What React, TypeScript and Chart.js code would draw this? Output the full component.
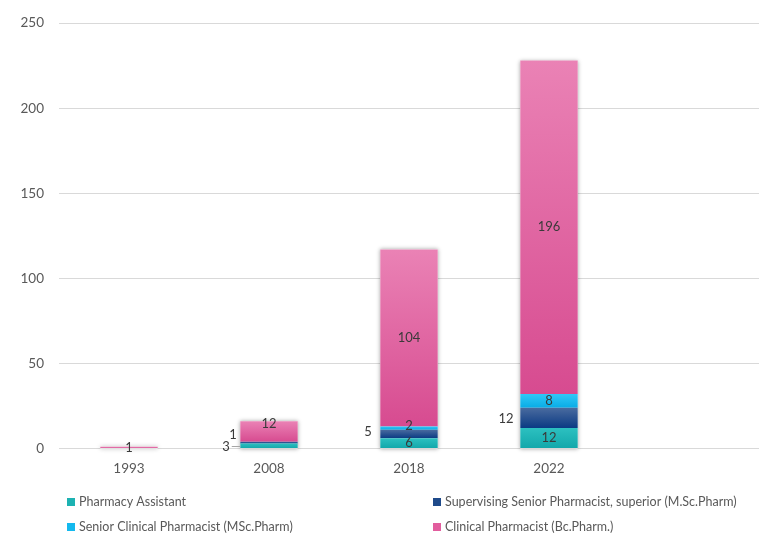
import React, { useEffect, useRef } from "react";
import { Chart, registerables } from "chart.js";

Chart.register(...registerables);

const categories = ["1993", "2008", "2018", "2022", ""];
const pharmacyAssistant = [0, 3, 6, 12, null];
const supervisingSenior = [0, 1, 5, 12, null];
const seniorClinical = [0, 0, 2, 8, null];
const clinicalPharmacist = [1, 12, 104, 196, null];
const seriesNames = [
  "Pharmacy Assistant",
  "Supervising Senior Pharmacist, superior (M.Sc.Pharm)",
  "Senior Clinical Pharmacist (MSc.Pharm)",
  "Clinical Pharmacist (Bc.Pharm.)",
];
const yMax = 250;
const yStep = 50;

const seriesData = [pharmacyAssistant, supervisingSenior, seniorClinical, clinicalPharmacist];
const gradStops = [
  ["#2CC0C0", "#12A7AA"],
  ["#4A6B9F", "#0A3A83"],
  ["#30C8F7", "#08ACE6"],
  ["#EA82B5", "#D74B90"],
];
const solidColors = ["#1DB2B2", "#1F4A8A", "#14B9EE", "#E25D9E"];

// manual label placement (style only)
const labelShift: Record<string, { dx: number; dy: number; leader?: boolean }> = {
  "0-1": { dx: -43, dy: 1, leader: true },
  "1-1": { dx: -36, dy: -7.5 },
  "3-1": { dx: 0, dy: -8 },
  "1-2": { dx: -41, dy: -2 },
  "2-2": { dx: 0, dy: -2 },
  "1-3": { dx: -43, dy: 1 },
};

const FONT = "Lato, 'Open Sans', sans-serif";

function stackStart(ds: number, i: number) {
  let s = 0;
  for (let k = 0; k < ds; k++) s += (seriesData[k][i] as number) || 0;
  return s;
}

function makeBg(ds: number) {
  return (ctx: any) => {
    const chart = ctx.chart;
    const y = chart.scales && chart.scales.y;
    if (ctx.dataIndex === undefined || !y || !chart.chartArea) return solidColors[ds];
    const v = (seriesData[ds][ctx.dataIndex] as number) || 0;
    const s = stackStart(ds, ctx.dataIndex);
    const top = y.getPixelForValue(s + v);
    const bot = y.getPixelForValue(s);
    if (!isFinite(top) || !isFinite(bot) || Math.abs(bot - top) < 0.5) return solidColors[ds];
    const g = chart.ctx.createLinearGradient(0, top, 0, bot);
    g.addColorStop(0, gradStops[ds][0]);
    g.addColorStop(1, gradStops[ds][1]);
    return g;
  };
}

const shadowPlugin = {
  id: "stackShadow",
  beforeDatasetsDraw(chart: any) {
    const c = chart.ctx;
    const metaTop = chart.getDatasetMeta(0);
    const y = chart.scales.y;
    c.save();
    metaTop.data.forEach((el: any, i: number) => {
      let total = 0;
      seriesData.forEach((arr) => (total += (arr[i] as number) || 0));
      if (!total) return;
      const w = el.width;
      const x = el.x - w / 2;
      const top = y.getPixelForValue(total);
      const bot = y.getPixelForValue(0);
      c.shadowColor = "rgba(0,0,0,0.35)";
      c.shadowBlur = 4;
      c.shadowOffsetX = 0;
      c.shadowOffsetY = 0;
      c.fillStyle = "#ffffff";
      c.fillRect(x, top, w, bot - top);
    });
    c.restore();
  },
};

const labelPlugin = {
  id: "segLabels",
  afterDatasetsDraw(chart: any) {
    const c = chart.ctx;
    c.save();
    c.font = `13px ${FONT}`;
    c.fillStyle = "#3A3A3A";
    c.textAlign = "center";
    c.textBaseline = "middle";
    chart.data.datasets.forEach((_: any, ds: number) => {
      const meta = chart.getDatasetMeta(ds);
      meta.data.forEach((el: any, i: number) => {
        const v = seriesData[ds][i];
        if (!v) return;
        const cy = (el.y + el.base) / 2;
        const sh = labelShift[`${ds}-${i}`] || { dx: 0, dy: 0 };
        const lx = el.x + sh.dx;
        const ly = cy + sh.dy;
        c.fillText(String(v), lx, ly);
        if (sh.leader) {
          const tw = c.measureText(String(v)).width;
          c.strokeStyle = "#A6A6A6";
          c.lineWidth = 1;
          c.beginPath();
          c.moveTo(lx + tw / 2 + 2, Math.round(ly) - 0.5);
          c.lineTo(el.x - el.width / 2, Math.round(ly) - 0.5);
          c.stroke();
        }
      });
    });
    c.restore();
  },
};

const legendPlugin = {
  id: "customLegend",
  afterDraw(chart: any) {
    const c = chart.ctx;
    const cols = [67, 433];
    const rows = [502, 527];
    c.save();
    c.font = `12.5px ${FONT}`;
    c.textBaseline = "middle";
    c.textAlign = "left";
    seriesNames.forEach((name, k) => {
      const x = cols[k % 2];
      const y = rows[Math.floor(k / 2)];
      c.fillStyle = solidColors[k];
      c.fillRect(x, y - 4, 8, 8);
      c.fillStyle = "#595959";
      c.fillText(name, x + 12, y);
    });
    c.restore();
  },
};

export default function App() {
  const ref = useRef<HTMLCanvasElement | null>(null);
  useEffect(() => {
    if (!ref.current) return;
    const chart = new Chart(ref.current, {
      type: "bar",
      data: {
        labels: categories,
        datasets: seriesNames.map((name, ds) => ({
          label: name,
          data: seriesData[ds] as any,
          backgroundColor: makeBg(ds) as any,
          borderWidth: 0,
          barPercentage: 0.41,
          categoryPercentage: 1,
        })),
      },
      options: {
        animation: false,
        responsive: false,
        maintainAspectRatio: false,
        layout: { padding: { left: 0, right: 12, top: 21, bottom: 0 } },
        plugins: {
          legend: { display: false },
          tooltip: { enabled: false },
        },
        scales: {
          x: {
            stacked: true,
            grid: { display: false, drawTicks: false },
            border: { display: false },
            ticks: { color: "#595959", font: { family: FONT, size: 13.5 }, padding: 12 },
            afterFit: (s: any) => {
              s.height = 93.5;
            },
          },
          y: {
            stacked: true,
            min: 0,
            max: yMax,
            grid: { color: "#D9D9D9", lineWidth: 1, drawTicks: false },
            border: { display: false },
            ticks: {
              stepSize: yStep,
              color: "#595959",
              font: { family: FONT, size: 13.5 },
              padding: 15,
            },
            afterFit: (s: any) => {
              s.width = 59;
            },
          },
        },
      },
      plugins: [shadowPlugin, labelPlugin, legendPlugin],
    });
    return () => chart.destroy();
  }, []);
  return (
    <div style={{ position: "absolute", left: 0, top: 0, width: 771, height: 542, background: "#fff" }}>
      <canvas ref={ref} width={771} height={542} style={{ display: "block", width: 771, height: 542 }} />
    </div>
  );
}
